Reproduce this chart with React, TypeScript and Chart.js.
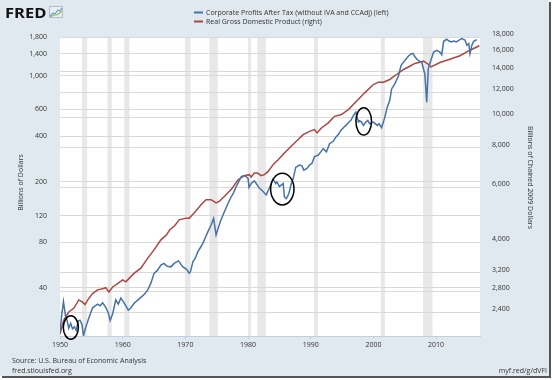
import React, { useEffect, useRef } from "react";
import { Chart, registerables } from "chart.js";

Chart.register(...registerables);

// ---- Data ----
const profitYears = [
  1950.0, 1950.25, 1950.55, 1950.9, 1951.1, 1951.4, 1951.7, 1952.0, 1952.3, 1952.6, 1952.9,
  1953.2, 1953.5, 1953.75, 1954.1, 1954.6, 1955.2, 1955.6, 1956.0, 1956.4, 1956.8, 1957.3,
  1957.7, 1958.0, 1958.4, 1958.9, 1959.3, 1959.7, 1960.1, 1960.5, 1960.9, 1961.3, 1961.8,
  1962.3, 1962.9, 1963.5, 1964.0, 1964.5, 1965.0, 1965.5, 1966.1, 1966.6, 1967.1, 1967.7,
  1968.2, 1968.9, 1969.6, 1970.2, 1970.6, 1970.8, 1971.2, 1971.6, 1972.0, 1972.5, 1972.8,
  1973.3, 1973.6, 1974.1, 1974.5, 1974.9, 1975.3, 1975.6, 1976.0, 1976.4, 1976.8, 1977.3,
  1977.7, 1978.1, 1978.5, 1978.9, 1979.3, 1979.6, 1980.0, 1980.15, 1980.5, 1981.0, 1981.3,
  1981.8, 1982.4, 1982.9, 1983.4, 1983.7, 1984.0, 1984.4, 1984.6, 1985.0, 1985.6, 1985.8,
  1986.1, 1986.5, 1986.9, 1987.2, 1987.6, 1988.2, 1988.6, 1988.9, 1989.4, 1989.8, 1990.2,
  1990.6, 1991.2, 1991.6, 1992.0, 1992.5, 1993.0, 1993.6, 1994.0, 1994.4, 1994.8, 1995.2,
  1995.6, 1996.0, 1996.4, 1996.8, 1997.2, 1997.6, 1997.8, 1998.1, 1998.4, 1998.8, 1999.1,
  1999.4, 2000.0, 2000.6, 2000.9, 2001.3, 2001.8, 2002.2, 2002.6, 2002.9, 2003.4, 2004.0,
  2004.4, 2004.8, 2005.2, 2005.6, 2006.0, 2006.3, 2006.6, 2006.9, 2007.2, 2007.7, 2008.2,
  2008.5, 2008.75, 2009.15, 2009.6, 2010.1, 2010.6, 2010.9, 2011.2, 2011.7, 2012.0, 2012.4,
  2012.8, 2013.2, 2013.6, 2014.1, 2014.6, 2014.9, 2015.2, 2015.4, 2015.7, 2016.0, 2016.5,
  2016.9,
];
const profitValues = [
  20.2, 26, 32.5, 25.8, 24.6, 21.7, 23.4, 21.5, 22.2, 21.0, 24.4,
  24.5, 23.0, 19.4, 22, 25.4, 29.6, 30.5, 31.3, 30.5, 32.0, 29.8,
  27.5, 24.4, 27.0, 33.4, 31.3, 34.3, 32.5, 30.5, 28.6, 29.5, 31.6,
  33.0, 34.7, 36.5, 38.8, 43, 49.9, 52, 56.5, 58.0, 55.5, 55.1,
  58, 60.3, 55, 53, 50, 51, 59.4, 63, 69.5, 75, 78.9,
  88, 94, 104, 115, 89.5, 101, 110, 121, 132, 144, 159,
  170, 186, 200, 216, 220, 218, 211, 184, 195, 203, 195,
  182, 173, 164, 182, 195, 209, 195, 200, 186, 195, 159,
  155, 167, 195, 210, 249, 258, 255, 239, 245, 258,
  265, 293, 300, 315, 331, 315, 357, 370, 394, 410, 436,
  455, 471, 490, 508, 545, 576, 495, 505, 495, 471, 495,
  508, 483, 495, 471, 483, 455, 530, 621, 687, 819, 884,
  1000, 1165, 1230, 1290, 1350, 1392, 1405, 1340, 1290, 1257, 1225,
  1027, 670, 1113, 1262, 1434, 1470, 1434, 1377, 1686, 1739, 1700,
  1670, 1690, 1670, 1712, 1757, 1720, 1589, 1629, 1400, 1589, 1686,
  1732,
];

const gdpYears = [
  1950.0, 1950.6, 1951.4, 1952.2, 1953.0, 1953.6, 1954.0, 1954.4, 1955.2, 1956.0, 1956.8,
  1957.3, 1957.8, 1958.4, 1959.2, 1960.0, 1960.5, 1961.0, 1961.8, 1962.9, 1964.0, 1965.0,
  1966.1, 1967.0, 1967.5, 1968.3, 1969.0, 1970.1, 1970.6, 1971.4, 1972.5, 1973.3, 1974.1,
  1974.9, 1975.4, 1976.2, 1977.3, 1978.4, 1979.4, 1980.2, 1980.5, 1981.0, 1981.5, 1982.1,
  1982.6, 1983.2, 1984.0, 1984.8, 1985.8, 1986.6, 1987.7, 1988.8, 1989.8, 1990.6, 1991.0,
  1991.7, 1992.8, 1993.8, 1994.9, 1996.0, 1997.3, 1998.6, 2000.0, 2000.8, 2001.6, 2002.6,
  2003.7, 2004.8, 2005.8, 2006.6, 2007.4, 2008.0, 2008.8, 2009.2, 2010.6, 2012.2, 2013.8,
  2015.4, 2016.9,
];
const gdpValues = [
  2047, 2268, 2404, 2471, 2626, 2583, 2540, 2622, 2750, 2827, 2852,
  2873, 2785, 2888, 2962, 3041, 2998, 3070, 3189, 3314, 3566, 3789,
  4078, 4231, 4390, 4520, 4720, 4780, 4780, 4960, 5270, 5470, 5470,
  5340, 5400, 5600, 5890, 6330, 6520, 6570, 6460, 6650, 6650, 6520,
  6570, 6730, 7070, 7330, 7700, 7990, 8390, 8810, 9020, 9140, 8920,
  9250, 9600, 10070, 10200, 10580, 11240, 11960, 12710, 12930, 12930, 13190,
  13680, 14190, 14530, 14830, 14970, 15080, 14720, 14470, 14930, 15300, 15690,
  16340, 16880,
];

const recessionStarts = [1953.5, 1957.58, 1960.25, 1969.92, 1973.83, 1980.0, 1981.5, 1990.5, 2001.17, 2007.92];
const recessionEnds = [1954.33, 1958.25, 1961.08, 1970.83, 1975.17, 1980.5, 1982.83, 1991.17, 2001.83, 2009.42];

const xTicks = [1950, 1960, 1970, 1980, 1990, 2000, 2010];
const leftTicks = [40, 80, 120, 200, 400, 600, 1000, 1400, 1800];
const rightTicks = [2400, 2800, 3200, 4000, 6000, 8000, 10000, 12000, 14000, 16000, 18000];

// Hand-drawn ellipse annotations (data coordinates, left axis)
const circleYearFrom = [1950.53, 1983.6, 1997.2];
const circleYearTo = [1952.93, 1987.33, 1999.7];
const circleLow = [18.4, 141, 407];
const circleHigh = [26.2, 228, 616];

const seriesNames = [
  "Corporate Profits After Tax (without IVA and CCAdj) (left)",
  "Real Gross Domestic Product (right)",
];
const seriesColors = ["#4572a7", "#aa4643"];

const FONT = "'Open Sans', 'DejaVu Sans', sans-serif";
const TEXT = "#333333";

const fredPlugin = {
  id: "fredDecor",
  beforeDraw(chart: any) {
    const { ctx, chartArea, scales } = chart;
    const W = chart.width;
    const H = chart.height;
    ctx.save();
    ctx.fillStyle = "#ffffff";
    ctx.fillRect(0, 0, W, H);
    ctx.fillStyle = "#e1e9f0";
    ctx.fillRect(0, 0, 549, 376);
    ctx.fillStyle = "#ffffff";
    ctx.fillRect(chartArea.left, chartArea.top, chartArea.right - chartArea.left, chartArea.bottom - chartArea.top);
    // recession bars
    ctx.beginPath();
    ctx.rect(chartArea.left, chartArea.top, chartArea.right - chartArea.left, chartArea.bottom - chartArea.top);
    ctx.clip();
    ctx.fillStyle = "#e8e8e8";
    const xs = scales.x;
    for (let i = 0; i < recessionStarts.length; i++) {
      const a = xs.getPixelForValue(recessionStarts[i]);
      const b = xs.getPixelForValue(recessionEnds[i]);
      ctx.fillRect(a, chartArea.top, b - a, chartArea.bottom - chartArea.top);
    }
    ctx.restore();
  },
  afterDraw(chart: any) {
    const { ctx, chartArea, scales } = chart;
    ctx.save();
    // ellipses
    ctx.strokeStyle = "#000000";
    ctx.lineWidth = 1.5;
    for (let i = 0; i < circleYearFrom.length; i++) {
      const x1 = scales.x.getPixelForValue(circleYearFrom[i]);
      const x2 = scales.x.getPixelForValue(circleYearTo[i]);
      const y1 = scales.y.getPixelForValue(circleHigh[i]);
      const y2 = scales.y.getPixelForValue(circleLow[i]);
      ctx.beginPath();
      ctx.ellipse((x1 + x2) / 2, (y1 + y2) / 2, Math.abs(x2 - x1) / 2, Math.abs(y2 - y1) / 2, 0, 0, Math.PI * 2);
      ctx.stroke();
    }

    // legend
    const lx = 194;
    const ly = [12.5, 21.5];
    ctx.font = `7px ${FONT}`;
    ctx.textBaseline = "middle";
    ctx.textAlign = "left";
    for (let i = 0; i < seriesNames.length; i++) {
      ctx.strokeStyle = seriesColors[i];
      ctx.lineWidth = 2;
      ctx.beginPath();
      ctx.moveTo(lx, ly[i]);
      ctx.lineTo(lx + 9, ly[i]);
      ctx.stroke();
      ctx.fillStyle = TEXT;
      ctx.fillText(seriesNames[i], lx + 12, ly[i]);
    }

    // FRED logo
    ctx.fillStyle = "#111111";
    ctx.font = `bold 15px ${FONT}`;
    ctx.textBaseline = "alphabetic";
    ctx.save();
    ctx.translate(5, 17.5);
    ctx.scale(1.1, 1);
    ctx.fillText("FRED", 0, 0);
    ctx.restore();
    ctx.fillStyle = "#e8edf2";
    ctx.fillRect(49, 6, 14, 12);
    ctx.strokeStyle = "#b5bec8";
    ctx.lineWidth = 1;
    ctx.strokeRect(49.5, 6.5, 13, 11);
    ctx.strokeStyle = "#6f9fc8";
    ctx.lineWidth = 1.2;
    ctx.beginPath();
    ctx.moveTo(50, 16);
    ctx.lineTo(53, 13);
    ctx.lineTo(55, 14);
    ctx.lineTo(58, 10);
    ctx.lineTo(60, 11);
    ctx.lineTo(62, 8);
    ctx.stroke();
    ctx.strokeStyle = "#8bbf5a";
    ctx.beginPath();
    ctx.moveTo(50, 17);
    ctx.lineTo(54, 15);
    ctx.lineTo(57, 15);
    ctx.lineTo(62, 11);
    ctx.stroke();

    // axis titles
    ctx.fillStyle = TEXT;
    ctx.font = `7px ${FONT}`;
    ctx.textAlign = "center";
    ctx.textBaseline = "middle";
    const midY = (chartArea.top + chartArea.bottom) / 2;
    ctx.save();
    ctx.translate(21, midY - 4);
    ctx.rotate(-Math.PI / 2);
    ctx.fillText("Billions of Dollars", 0, 0);
    ctx.restore();
    ctx.save();
    ctx.translate(530, midY - 9);
    ctx.rotate(Math.PI / 2);
    ctx.fillText("Billions of Chained 2009 Dollars", 0, 0);
    ctx.restore();

    // footer
    ctx.textAlign = "left";
    ctx.font = `7px ${FONT}`;
    ctx.fillText("Source: U.S. Bureau of Economic Analysis", 12, 361);
    ctx.fillText("fred.stlouisfed.org", 12, 371);
    ctx.textAlign = "right";
    ctx.fillText("myf.red/g/dVFI", 547, 371);

    // frame
    ctx.fillStyle = "#555555";
    ctx.fillRect(549, 2, 2, 376);
    ctx.fillRect(2, 376, 549, 2);
    ctx.restore();
  },
};

export default function App() {
  const ref = useRef<HTMLCanvasElement | null>(null);
  useEffect(() => {
    document.body.style.margin = "0";
    const canvas = ref.current;
    if (!canvas) return;
    const tickFont = { family: FONT, size: 7 };
    const chart = new Chart(canvas, {
      type: "line",
      data: {
        datasets: [
          {
            label: seriesNames[0],
            data: profitYears.map((x, i) => ({ x, y: profitValues[i] })),
            borderColor: seriesColors[0],
            borderWidth: 1.5,
            pointRadius: 0,
            tension: 0,
            yAxisID: "y",
          },
          {
            label: seriesNames[1],
            data: gdpYears.map((x, i) => ({ x, y: gdpValues[i] })),
            borderColor: seriesColors[1],
            borderWidth: 1.5,
            pointRadius: 0,
            tension: 0,
            yAxisID: "y1",
          },
        ],
      },
      options: {
        responsive: false,
        animation: false,
        devicePixelRatio: 1,
        layout: { padding: { top: 37, left: 0, right: 0, bottom: 0 } },
        plugins: { legend: { display: false }, tooltip: { enabled: false }, title: { display: false } },
        scales: {
          x: {
            type: "linear",
            min: 1950,
            max: 2017,
            afterBuildTicks: (s: any) => {
              s.ticks = xTicks.map((v) => ({ value: v }));
            },
            afterFit: (s: any) => {
              s.height = 44;
            },
            grid: { display: true, drawOnChartArea: false, drawTicks: true, tickLength: 3, color: "#c0d0e0" },
            border: { display: true, color: "#c0d0e0" },
            ticks: {
              autoSkip: false,
              maxRotation: 0,
              padding: 2,
              color: TEXT,
              font: tickFont,
              callback: (v: any) => String(v),
            },
          },
          y: {
            type: "logarithmic",
            position: "left",
            min: 19.3,
            max: 1800,
            afterBuildTicks: (s: any) => {
              s.ticks = leftTicks.map((v) => ({ value: v }));
            },
            afterFit: (s: any) => {
              s.width = 60;
            },
            grid: { color: "#d9d9d9", drawTicks: false },
            border: { display: false },
            ticks: {
              padding: 13,
              color: TEXT,
              font: tickFont,
              callback: (v: any) => Number(v).toLocaleString("en-US"),
            },
          },
          y1: {
            type: "logarithmic",
            position: "right",
            min: 2017,
            max: 18000,
            afterBuildTicks: (s: any) => {
              s.ticks = rightTicks.map((v) => ({ value: v }));
            },
            afterFit: (s: any) => {
              s.width = 74;
            },
            grid: { color: "#d9d9d9", drawTicks: false },
            border: { display: false },
            ticks: {
              padding: 12,
              labelOffset: -3,
              color: TEXT,
              font: tickFont,
              callback: (v: any) => Number(v).toLocaleString("en-US"),
            },
          },
        },
      },
      plugins: [fredPlugin],
    } as any);
    return () => chart.destroy();
  }, []);
  return (
    <div style={{ width: 554, height: 380 }}>
      <canvas ref={ref} width={554} height={380} style={{ display: "block" }} />
    </div>
  );
}
